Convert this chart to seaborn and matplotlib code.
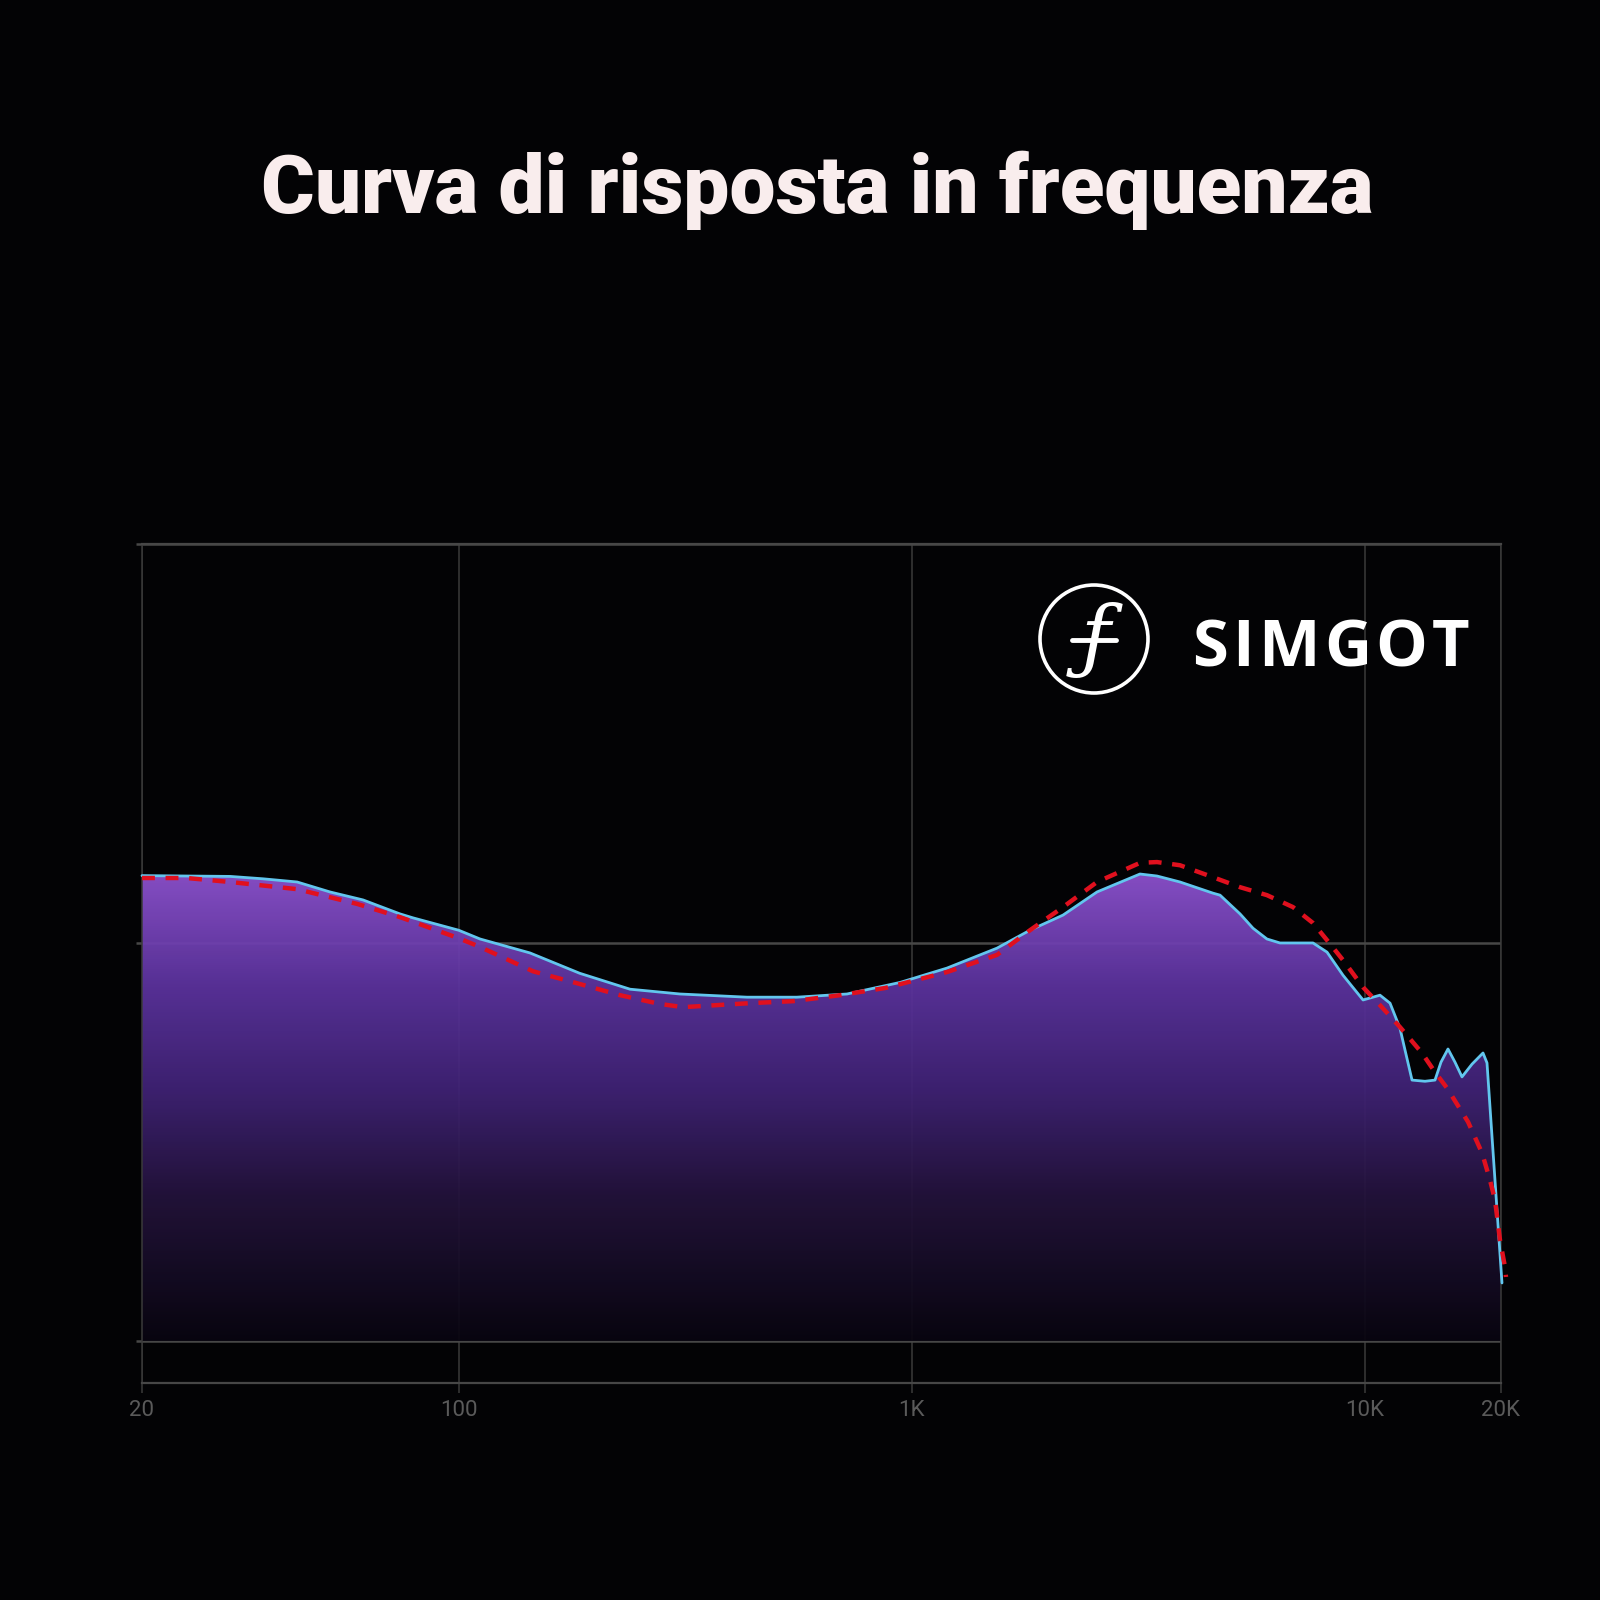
import numpy as np
import pandas as pd
import matplotlib
matplotlib.use("Agg")
import matplotlib.pyplot as plt
import seaborn as sns
from matplotlib.colors import LinearSegmentedColormap
from matplotlib.patches import Circle
from matplotlib.lines import Line2D
from matplotlib.ticker import NullLocator, FixedLocator

# ---------------- data ----------------
title = "Curva di risposta in frequenza"
brand = "SIMGOT"
tick_freqs = [20, 100, 1000, 10000, 20000]
tick_labels = ["20", "100", "1K", "10K", "20K"]
grid_levels = [80, 90, 100]

measured_freq = [20, 31.3, 37.0, 44.0, 52.0, 61.5, 74.2, 79.3, 100, 111.5, 143.7, 185, 239, 308,
                 433, 558, 720, 943, 1197, 1543, 1825, 2159, 2566, 3192, 3480, 3912,
                 4626, 4795, 5308, 5670, 6086, 6504, 6948, 7692, 8260, 8960, 9920, 10812, 11378,
                 11968, 12280, 12724, 13590, 14300, 14742, 15276, 15828, 16402, 17260,
                 18252, 18626, 20100]
measured_db = [91.68, 91.66, 91.60, 91.52, 91.27, 91.07, 90.72, 90.62, 90.31, 90.09, 89.74, 89.23, 88.83, 88.71,
               88.63, 88.63, 88.71, 89.00, 89.36, 89.86, 90.31, 90.69, 91.27, 91.72, 91.67, 91.52,
               91.24, 91.19, 90.72, 90.36, 90.09, 89.99, 89.99, 89.99, 89.76, 89.18, 88.56, 88.68, 88.48,
               87.85, 87.30, 86.55, 86.52, 86.55, 87.00, 87.33, 87.00, 86.63, 86.95,
               87.23, 86.98, 81.46]

target_freq = [20, 25.1, 31.3, 44.0, 59.7, 74.2, 100, 111.5, 145.9, 182.5, 227.2, 278.2,
               312.9, 439.8, 547.2, 694.8, 873.6, 1197, 1543, 1825, 2159, 2566, 3192, 3480,
               3912, 4626, 5308, 6086, 6948, 7692, 8260, 8960, 9920, 10812, 11968, 13383,
               14300, 15201, 16917, 18164, 18914, 19400, 19900, 20410, 20512]
target_db = [91.62, 91.62, 91.52, 91.34, 90.97, 90.64, 90.11, 89.89, 89.28, 88.98, 88.68, 88.46,
             88.38, 88.48, 88.53, 88.68, 88.86, 89.26, 89.69, 90.31, 90.89, 91.52, 92.00, 92.02,
             91.94, 91.64, 91.39, 91.19, 90.89, 90.49, 90.06, 89.56, 88.88, 88.43, 87.88, 87.23,
             86.75, 86.35, 85.50, 84.72, 84.04, 83.54, 82.53, 81.86, 81.61]

measured = pd.DataFrame({"freq": measured_freq, "db": measured_db})
target = pd.DataFrame({"freq": target_freq, "db": target_db})

# ---------------- style ----------------
bg = "#030305"
grid_col = "#474747"
sns.set_theme(style="dark", rc={"axes.facecolor": bg, "figure.facecolor": bg})
plt.rcParams["font.family"] = ["Roboto", "DejaVu Sans"]

fig = plt.figure(figsize=(16, 16), dpi=100, facecolor=bg)
ax = fig.add_axes([142 / 1600, 1 - 1383 / 1600, 1359 / 1600, 839 / 1600])
ax.set_facecolor(bg)
ax.set_xscale("log")

# gradient fill under the measured curve
fill = ax.fill_between(measured["freq"], measured["db"], 80, color="none", lw=0)
stops = [(0.0, (0.035, 0.022, 0.065)),
         (0.29, (0.14, 0.075, 0.235)),
         (0.50, (0.25, 0.135, 0.46)),
         (0.71, (0.36, 0.20, 0.62)),
         (0.93, (0.55, 0.32, 0.81)),
         (1.0, (0.57, 0.33, 0.84))]
cmap = LinearSegmentedColormap.from_list("purple_grad", stops)
grad = np.linspace(0, 1, 512).reshape(-1, 1)
im = ax.imshow(grad, extent=[20, 20100, 80, 92.5], origin="lower", aspect="auto",
               cmap=cmap, zorder=1, interpolation="bilinear", alpha=0.94)
im.set_clip_path(fill.get_paths()[0], transform=ax.transData)

# curves
sns.lineplot(data=measured, x="freq", y="db", ax=ax, sort=False, estimator=None,
             color="#62c6ee", lw=2.0, zorder=3)
sns.lineplot(data=target, x="freq", y="db", ax=ax, sort=False, estimator=None,
             color="#e0101e", lw=3.2, zorder=4, linestyle=(0, (2.9, 2.4)))
for ln in ax.lines:
    ln.set_clip_on(False)
    ln.set_solid_joinstyle("round")

ax.set_xlim(20, 20000)
ax.set_ylim(78.95, 100)

# axes, grid, ticks
ax.xaxis.set_major_locator(FixedLocator(tick_freqs))
ax.xaxis.set_minor_locator(NullLocator())
ax.set_xticklabels(tick_labels)
ax.set_yticks(grid_levels)
ax.set_yticklabels([])
ax.set_xlabel("")
ax.set_ylabel("")
ax.set_axisbelow(True)
ax.xaxis.grid(True, color="#3a3a3a", lw=1.1)
ax.yaxis.grid(True, color=grid_col, lw=1.8)
ax.tick_params(axis="x", length=7, width=1.1, color="#3a3a3a", labelcolor="#5a5a5a",
               labelsize=16, pad=5, bottom=True)
ax.tick_params(axis="y", length=4, width=1.8, color=grid_col, left=True)
for side, sp in ax.spines.items():
    sp.set_visible(True)
    sp.set_color(grid_col)
    sp.set_linewidth(1.6)
ax.spines["left"].set_color("#3a3a3a")
ax.spines["right"].set_color("#3a3a3a")
ax.spines["left"].set_linewidth(1.1)
ax.spines["right"].set_linewidth(1.1)

# title
fig.text(817 / 1600, 1 - 190 / 1600, title, ha="center", va="center",
         fontsize=59, fontweight="heavy", color="#f9eded")

# logo
cx, cy, r = 1094 / 1600, 1 - 639 / 1600, 54 / 1600
fig.patches.append(Circle((cx, cy), r, transform=fig.transFigure, fill=False,
                          ec="white", lw=2.6))
fig.text(cx + 2 / 1600, cy - 2 / 1600, "ƒ", ha="center", va="center", fontsize=58,
         family=["DejaVu Serif"], style="italic", color="white")
fig.lines.append(Line2D([1072 / 1600, 1116 / 1600], [1 - 640 / 1600, 1 - 640 / 1600],
                        transform=fig.transFigure, color="white", lw=3.5))

# brand name with letter spacing
renderer = fig.canvas.get_renderer()
brand_kw = dict(ha="left", va="center", fontsize=47, fontweight="bold",
                family=["Open Sans", "DejaVu Sans"], color="white")
letters = [fig.text(0, 1 - 650 / 1600, ch, **brand_kw) for ch in brand]
widths = [t.get_window_extent(renderer).width for t in letters]
total = 277.0
track = (total - sum(widths)) / (len(brand) - 1)
xpos = 1192.0
for t, w in zip(letters, widths):
    t.set_x(xpos / 1600)
    xpos += w + track

fig.savefig("out.png", dpi=100, facecolor=bg)
